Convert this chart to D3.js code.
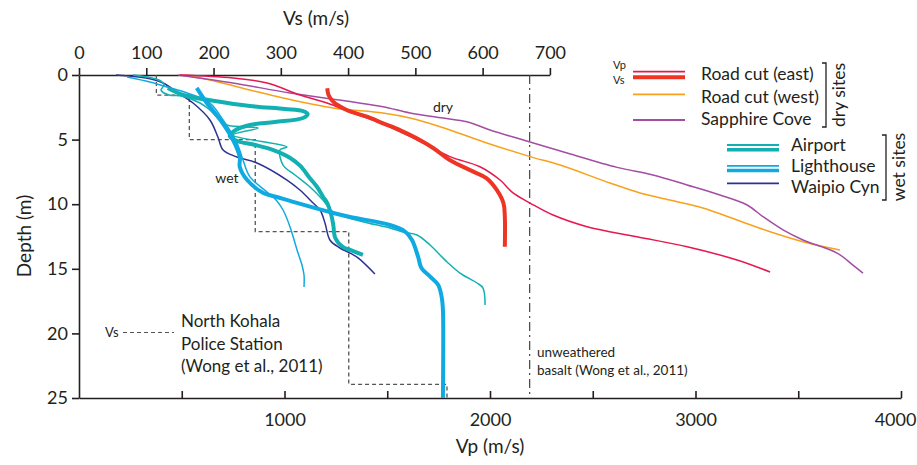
<!DOCTYPE html>
<html>
<head>
<meta charset="utf-8">
<script src="https://cdn.jsdelivr.net/npm/d3@7"></script>
<style>
	body{margin:0;background:#fff;}
	svg{display:block;font-family:Lato,"Open Sans",sans-serif;fill:#231f20;}
	.axis path,.axis line{stroke:#231f20;stroke-width:1.6;}
	.axis text{font-size:18px;fill:#231f20;font-family:Lato,"Open Sans",sans-serif;}
</style>
</head>
<body>
<div id="chart"></div>
<script>
// ticks
const vsTicks = [0, 100, 200, 300, 400, 500, 600, 700];
const vpTicks = [500, 1000, 1500, 2000, 2500, 3000, 3500, 4000];
const depthTicks = [0, 5, 10, 15, 20, 25];

// profiles, [velocity m/s, depth m]  (Vp = thin lines, Vs = thick lines)
const roadEastVp = [[491,0],[749,0.23],[915,0.62],[1075,1.55],[1207,2.17],[1319,2.86],[1479,3.79],[1645,5.03],[1805,6.32],[1951,7.1],[2049,8.13],[2112,9.13],[2195,9.91],[2307,10.84],[2472,11.74],[2715,12.52],[2959,13.29],[3202,14.32],[3363,15.25]];
const roadEastVs = [[369,1.03],[371,1.55],[378,2.07],[398,2.71],[428,3.23],[452,3.74],[477,4.26],[502,4.9],[527,5.67],[551,6.58],[586,7.48],[606,8.0],[621,8.9],[631,9.93],[633,10.96],[633,13.29]];
const roadWestVp = [[516,0],[672,0.52],[832,1.16],[993,1.78],[1236,2.55],[1479,2.94],[1611,3.33],[1757,4.0],[1966,5.16],[2195,6.32],[2341,6.97],[2584,8.36],[2730,9.13],[2876,9.68],[3036,10.29],[3202,11.22],[3363,12.13],[3523,12.9],[3703,13.54]];
const sapphireVp = [[482,0],[749,0.62],[1027,1.39],[1319,2.06],[1479,2.45],[1611,2.94],[1771,3.33],[1888,3.62],[2000,4.26],[2170,5.07],[2375,6.04],[2618,7.15],[2793,7.74],[2959,8.51],[3119,9.29],[3251,10.06],[3328,10.96],[3426,11.99],[3523,12.77],[3689,13.78],[3766,14.71],[3815,15.33]];
const airportVp = [[263,0],[389,0.39],[414,0.77],[399,1.16],[438,1.55],[501,1.63],[589,2.17],[637,2.71],[676,3.33],[720,3.87],[871,4.1],[749,4.64],[1012,5.57],[978,5.8],[993,6.97],[1051,7.74],[1124,8.67],[1187,9.67],[1236,10.6],[1367,11.3],[1513,11.84],[1577,12.15],[1645,12.38],[1708,13.16],[1791,14.47],[1854,15.33],[1937,16.1],[1966,16.49],[1976,17.8]];
const airportVs = [[132,1.01],[155,1.55],[202,2.01],[254,2.4],[306,2.63],[333,2.79],[340,3.02],[333,3.33],[291,3.64],[254,3.87],[233,4.26],[224,4.72],[235,5.11],[262,5.42],[288,5.8],[314,6.42],[329,7.04],[343,7.97],[354,8.67],[363,9.44],[369,9.91],[375,10.84],[378,11.61],[381,12.62],[392,13.31],[403,13.54],[422,13.93]];
const lighthouseVp = [[234,0.15],[345,0.54],[428,0.93],[526,1.39],[637,2.17],[701,3.48],[769,5.26],[798,6.58],[832,7.89],[915,9.06],[959,9.67],[993,10.45],[1027,11.76],[1061,13.54],[1085,14.71],[1095,15.48],[1095,16.41]];
const lighthouseVs = [[175,1.0],[190,2.17],[210,3.48],[229,5.03],[239,6.35],[239,7.12],[250,8.13],[274,9.13],[294,9.44],[329,9.98],[378,10.68],[403,10.99],[462,11.61],[485,12.13],[495,12.77],[504,14.06],[509,14.94],[522,15.61],[534,16.25],[539,17.16],[541,18.19],[541,25]];
const waipioVp = [[180,0],[326,0.23],[409,0.62],[482,1.39],[555,2.17],[637,3.48],[676,4.8],[701,5.8],[769,6.35],[866,6.81],[1012,8.13],[1075,8.9],[1139,9.91],[1173,10.45],[1197,11.45],[1221,12.77],[1270,13.39],[1319,13.78],[1358,14.16],[1440,15.4]];

// North Kohala Police Station Vs layers (Wong et al., 2011)
const kohalaTop = [0, 1.55, 5, 12.13, 23.94];
const kohalaVs = [115, 164, 262, 401, 547];
const maxDepth = 25;
// unweathered basalt Vp
const basaltVp = 2193;

const drySites = ["Road cut (east)", "Road cut (west)", "Sapphire Cove"];
const wetSites = ["Airport", "Lighthouse", "Waipio Cyn"];

const colors = {
	roadEastVp: "#e6194f", roadEastVs: "#ee3524", roadWest: "#f9a11b", sapphire: "#a34ea2",
	airport: "#12b0b2", lighthouse: "#10aae2", waipio: "#2e3192"
};

const width = 917, height = 465;
const svg = d3.select("#chart").append("svg")
	.attr("width", width)
	.attr("height", height);

const xVp = d3.scaleLinear().domain([0, 4000]).range([79, 901]);
const xVs = d3.scaleLinear().domain([0, 700]).range([79, 549.9]);
const y = d3.scaleLinear().domain([0, 25]).range([75, 398]);

// axes
svg.append("g").attr("class", "axis")
	.attr("transform", "translate(0,75)")
	.call(d3.axisTop(xVs).tickValues(vsTicks).tickSize(7).tickPadding(9).tickSizeOuter(0));
svg.append("g").attr("class", "axis")
	.attr("transform", "translate(79,0)")
	.call(d3.axisLeft(y).tickValues(depthTicks).tickSize(7).tickPadding(4).tickSizeOuter(0));
const bottomAxis = svg.append("g").attr("class", "axis")
	.attr("transform", "translate(0,398)")
	.call(d3.axisBottom(xVp).tickValues(vpTicks).tickSizeInner(-7).tickSizeOuter(0).tickPadding(15)
		.tickFormat(d => d % 1000 === 0 ? d : ""));
// keep the last label inside the window
bottomAxis.selectAll(".tick text").filter(d => d === 4000).attr("dx", "-6");

// axis titles
svg.append("text").attr("x", 316).attr("y", 25).attr("text-anchor", "middle")
	.style("font-size", "19px").text("Vs (m/s)");
svg.append("text").attr("x", 490).attr("y", 453).attr("text-anchor", "middle")
	.style("font-size", "19px").text("Vp (m/s)");
svg.append("text").attr("transform", "translate(31,236) rotate(-90)").attr("text-anchor", "middle")
	.style("font-size", "19px").text("Depth (m)");

// reference lines
const kohala = [];
kohalaTop.forEach((t, i) => {
	const bottom = i < kohalaTop.length - 1 ? kohalaTop[i + 1] : maxDepth;
	kohala.push([kohalaVs[i], t], [kohalaVs[i], bottom]);
});
svg.append("path")
	.attr("d", d3.line().x(d => xVs(d[0])).y(d => y(d[1]))(kohala))
	.attr("fill", "none").attr("stroke", "#555").attr("stroke-width", 1.3)
	.attr("stroke-dasharray", "4,3");
svg.append("line")
	.attr("x1", xVp(basaltVp)).attr("x2", xVp(basaltVp))
	.attr("y1", y(0)).attr("y2", y(maxDepth))
	.attr("stroke", "#444").attr("stroke-width", 1.2)
	.attr("stroke-dasharray", "9,4,2,4");

// profiles
const lineVp = d3.line().x(d => xVp(d[0])).y(d => y(d[1])).curve(d3.curveCatmullRom.alpha(0.5));
const lineVs = d3.line().x(d => xVs(d[0])).y(d => y(d[1])).curve(d3.curveCatmullRom.alpha(0.5));

const thin = [
	[roadWestVp, colors.roadWest], [sapphireVp, colors.sapphire], [roadEastVp, colors.roadEastVp],
	[waipioVp, colors.waipio], [lighthouseVp, colors.lighthouse], [airportVp, colors.airport]
];
const thick = [
	[roadEastVs, colors.roadEastVs], [airportVs, colors.airport], [lighthouseVs, colors.lighthouse]
];
svg.append("g").selectAll("path").data(thin).enter().append("path")
	.attr("d", d => lineVp(d[0]))
	.attr("fill", "none").attr("stroke", d => d[1]).attr("stroke-width", 1.5);
svg.append("g").selectAll("path").data(thick).enter().append("path")
	.attr("d", d => lineVs(d[0]))
	.attr("fill", "none").attr("stroke", d => d[1]).attr("stroke-width", 4)
	.attr("stroke-linejoin", "round");

// annotations
svg.append("text").attr("x", 443).attr("y", 112).attr("text-anchor", "middle").style("font-size", "14px").text("dry");
svg.append("text").attr("x", 227).attr("y", 183).attr("text-anchor", "middle").style("font-size", "14px").text("wet");

svg.append("text").attr("x", 105).attr("y", 337).style("font-size", "13px").text("Vs");
svg.append("line").attr("x1", 123).attr("x2", 174).attr("y1", 332.5).attr("y2", 332.5)
	.attr("stroke", "#555").attr("stroke-width", 1.2).attr("stroke-dasharray", "4,3");
["North Kohala", "Police Station", "(Wong et al., 2011)"].forEach((t, i) => {
	svg.append("text").attr("x", 181).attr("y", 327 + i * 22.5).style("font-size", "17px").text(t);
});
["unweathered", "basalt (Wong et al., 2011)"].forEach((t, i) => {
	svg.append("text").attr("x", 537).attr("y", 357 + i * 18).style("font-size", "13.5px").text(t);
});

// legend
const legend = svg.append("g").style("font-size", "17.5px");
legend.append("text").attr("x", 613).attr("y", 69).style("font-size", "11px").text("Vp");
legend.append("text").attr("x", 613).attr("y", 84).style("font-size", "11px").text("Vs");

const dryLines = [
	[[71.7, colors.roadEastVp, 1.8], [77.3, colors.roadEastVs, 4]],
	[[94.3, colors.roadWest, 1.8]],
	[[120, colors.sapphire, 1.8]]
];
const dryLabelY = [80, 102.5, 124.5];
drySites.forEach((name, i) => {
	dryLines[i].forEach(l => legend.append("line")
		.attr("x1", 633).attr("x2", 685).attr("y1", l[0]).attr("y2", l[0])
		.attr("stroke", l[1]).attr("stroke-width", l[2]));
	legend.append("text").attr("x", 701).attr("y", dryLabelY[i]).text(name);
});
const wetLines = [
	[[145, colors.airport, 1.8], [149.7, colors.airport, 3.6]],
	[[165.8, colors.lighthouse, 1.8], [170.5, colors.lighthouse, 3.6]],
	[[183.3, colors.waipio, 1.8]]
];
const wetLabelY = [150.5, 171.5, 192.5];
wetSites.forEach((name, i) => {
	wetLines[i].forEach(l => legend.append("line")
		.attr("x1", 727).attr("x2", 779).attr("y1", l[0]).attr("y2", l[0])
		.attr("stroke", l[1]).attr("stroke-width", l[2]));
	legend.append("text").attr("x", 791).attr("y", wetLabelY[i]).text(name);
});

// brackets
const bracket = (x, y0, y1) => legend.append("path")
	.attr("d", `M${x - 4},${y0}H${x}V${y1}H${x - 4}`)
	.attr("fill", "none").attr("stroke", "#231f20").attr("stroke-width", 1.3);
bracket(826, 63, 127);
bracket(886, 135, 200);
legend.append("text").attr("transform", "translate(845,95) rotate(-90)").attr("text-anchor", "middle").text("dry sites");
legend.append("text").attr("transform", "translate(905,167) rotate(-90)").attr("text-anchor", "middle").text("wet sites");
</script>
</body>
</html>
